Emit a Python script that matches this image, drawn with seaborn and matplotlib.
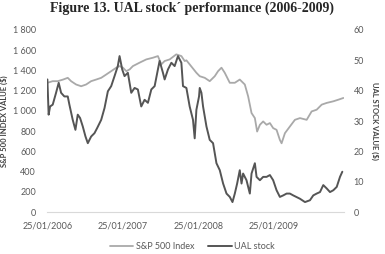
import numpy as np
import pandas as pd
import matplotlib
matplotlib.use("Agg")
import matplotlib.pyplot as plt
from matplotlib.ticker import FuncFormatter
from matplotlib.lines import Line2D
import seaborn as sns

# x positions are months after 25/01/2006
start = pd.Timestamp("2006-01-25")

sp_months = [0, 0.85, 1.65, 2.5, 3.24, 3.77, 4.57, 5.37, 6.16, 6.96, 7.76, 8.56, 9.36,
             10.15, 10.95, 11.48, 12.02, 12.55, 13.08, 13.6, 14.67, 15.73, 16.8, 17.58,
             18.12, 18.65, 19.45, 20.5, 21.31, 21.84, 22.11, 22.63, 23.7, 24.23, 25.03,
             25.82, 26.62, 27.15, 27.69, 28.21, 29.01, 29.81, 30.6, 31.4, 31.93, 32.47,
             33.0, 33.36, 33.8, 34.32, 34.86, 35.39, 35.91, 36.45, 36.98, 37.25, 37.78,
             38.57, 39.37, 40.17, 41.24, 42.03, 42.83, 43.63, 44.42, 45.48, 46.28, 47.08]
sp_values = [1278, 1294, 1294, 1310, 1327, 1294, 1261, 1244, 1261, 1294, 1310, 1327, 1360,
             1393, 1427, 1443, 1427, 1393, 1410, 1443, 1477, 1509, 1526, 1542,
             1460, 1493, 1509, 1559, 1542, 1493, 1500, 1460, 1377, 1343, 1327,
             1294, 1343, 1393, 1427, 1377, 1278, 1278, 1310, 1261, 1144, 979,
             929, 796, 863, 896, 863, 880, 830, 813, 713, 680, 780,
             846, 912, 929, 912, 995, 1012, 1062, 1079, 1095, 1111, 1128]

ual_months = [0, 0.2, 0.43, 0.85, 1.38, 1.8, 2.18, 2.7, 3.24, 3.5, 4.03, 4.46, 4.83, 5.2,
              5.63, 6.06, 6.43, 6.96, 7.49, 7.92, 8.56, 9.09, 9.62, 10.15, 10.68, 11.2,
              11.48, 11.9, 12.27, 12.8, 13.34, 13.87, 14.39, 14.93, 15.46, 15.99, 16.53,
              17.06, 17.58, 17.85, 18.38, 18.65, 19.18, 19.72, 20.24, 20.77, 21.31, 21.57,
              22.11, 22.63, 23.16, 23.43, 23.7, 24.12, 24.23, 24.5, 24.76, 25.3, 25.82,
              26.35, 26.89, 27.42, 27.95, 28.49, 29.01, 29.44, 29.81, 30.18, 30.6, 30.88,
              31.13, 31.67, 32.2, 32.47, 33.0, 33.27, 33.8, 34.32, 34.86, 35.39, 35.91,
              36.45, 36.98, 37.51, 38.05, 38.57, 39.1, 40.17, 40.97, 41.76, 42.29, 42.83,
              43.36, 43.88, 44.42, 44.95, 45.48, 46.02, 46.54, 46.91]
ual_values = [43.7, 32.1, 34.8, 35.4, 39.3, 42.6, 39.3, 38.1, 38.1, 35.4, 30.4, 27.1, 32.1, 31.0,
              28.2, 24.9, 22.7, 24.9, 26.0, 27.7, 30.4, 34.3, 39.8, 41.5, 44.8, 48.1,
              51.4, 47.0, 44.8, 45.9, 39.3, 40.9, 40.4, 34.8, 37.0, 36.0, 40.4,
              41.5, 47.0, 49.8, 45.9, 43.7, 47.0, 49.2, 48.1, 51.4, 49.2, 41.5,
              40.9, 34.8, 30.4, 24.3, 33.7, 38.1, 40.9, 39.3, 34.8, 28.2, 23.8,
              22.7, 16.1, 13.8, 9.4, 6.1, 5.0, 3.3, 6.1, 9.4, 13.8, 9.4,
              12.7, 10.5, 6.1, 12.7, 16.1, 11.6, 10.5, 11.6, 11.6, 12.2, 10.5,
              7.2, 5.0, 5.5, 6.1, 6.1, 5.5, 4.4, 3.3, 3.9, 5.5, 6.1,
              6.6, 8.9, 7.8, 6.6, 7.2, 8.3, 11.6, 13.3]

tick_dates = ["2006-01-25", "2007-01-25", "2008-01-25", "2009-01-25"]
tick_labels = ["25/01/2006", "25/01/2007", "25/01/2008", "25/01/2009"]


def to_dates(months):
    return start + pd.to_timedelta(np.array(months) * 30.4375, unit="D")


sp_df = pd.DataFrame({"date": to_dates(sp_months), "value": sp_values})
ual_df = pd.DataFrame({"date": to_dates(ual_months), "value": ual_values})

sns.set_style("white")
plt.rcParams["font.family"] = ["Lato", "DejaVu Sans"]

sp_color = "#a9a9a9"
ual_color = "#555555"
tick_color = "#595959"

fig = plt.figure(figsize=(3.85, 2.54), dpi=100)
ax = fig.add_axes([0.122, 0.165, 0.771, 0.717])
ax2 = ax.twinx()

sns.lineplot(data=sp_df, x="date", y="value", ax=ax, color=sp_color, lw=1.3, estimator=None)
sns.lineplot(data=ual_df, x="date", y="value", ax=ax2, color=ual_color, lw=1.4, estimator=None)

ax.set_ylim(0, 1800)
ax.set_yticks(range(0, 1801, 200))
ax.yaxis.set_major_formatter(FuncFormatter(lambda v, p: f"{int(v):,}".replace(",", " ")))
ax2.set_ylim(0, 60)
ax2.set_yticks(range(0, 61, 10))

ax.set_xlim(pd.Timestamp("2006-01-23"), pd.Timestamp("2009-12-30"))
ax.set_xticks(pd.to_datetime(tick_dates))
ax.set_xticklabels(tick_labels)

for a in (ax, ax2):
    for s in a.spines.values():
        s.set_visible(False)
    a.set_xlabel("")
ax.spines["bottom"].set_visible(True)
ax.spines["bottom"].set_color("#d9d9d9")

ax.tick_params(axis="x", length=3, color="#d9d9d9", labelsize=6.5, labelcolor=tick_color, pad=4)
ax.tick_params(axis="y", length=0, labelsize=6.5, labelcolor=tick_color, pad=8)
ax2.tick_params(axis="y", length=0, labelsize=6.5, labelcolor=tick_color, pad=7)

ax.set_ylabel("S&P 500 INDEX VALUE ($)", fontsize=5.5, fontweight="bold", color="#404040", labelpad=3)
ax2.set_ylabel("UAL STOCK VALUE ($)", fontsize=5.5, fontweight="bold", color="#404040",
               rotation=270, labelpad=10)

handles = [Line2D([], [], color=sp_color, lw=1.3), Line2D([], [], color=ual_color, lw=1.4)]
fig.legend(handles, ["S&P 500 Index", "UAL stock"], loc="center", bbox_to_anchor=(0.5, 0.03),
           ncol=2, frameon=False, fontsize=6.5, handlelength=2.6, handletextpad=0.3,
           columnspacing=1.5, labelcolor=tick_color)

fig.text(0.5, 0.955, "Figure 13. UAL stock\u00b4 performance (2006-2009)", ha="center",
         va="baseline", fontsize=10, fontweight="bold", family="Liberation Serif")

fig.savefig("out.png", dpi=100)
